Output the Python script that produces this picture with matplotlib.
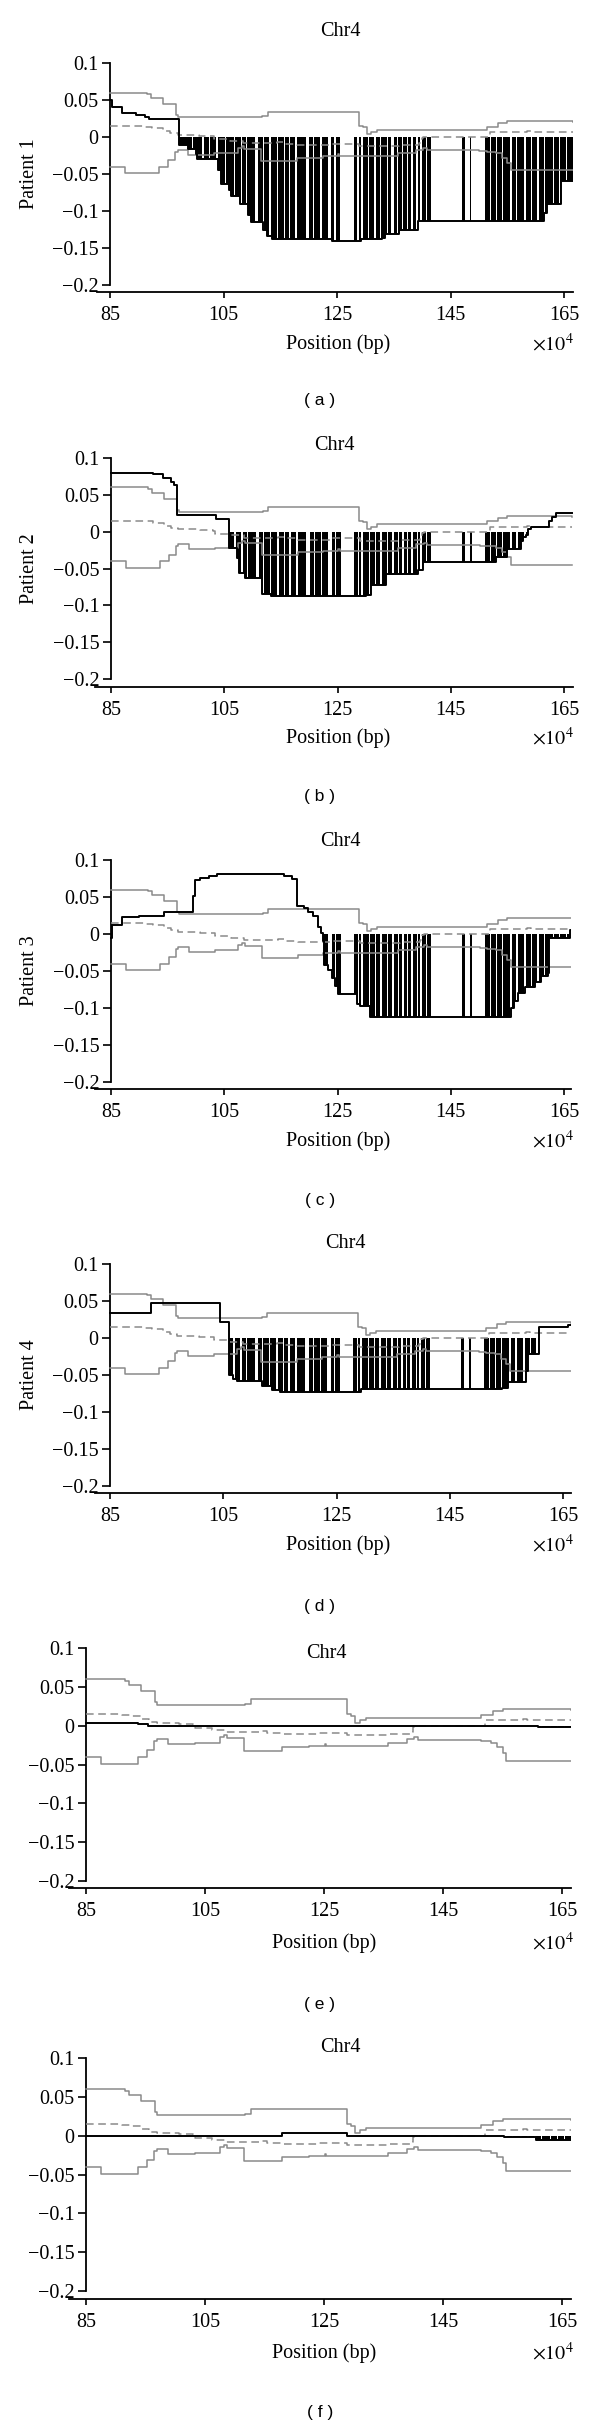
import numpy as np
import matplotlib.pyplot as plt

plt.rcParams["font.family"] = ["Liberation Serif", "DejaVu Serif"]
plt.rcParams["mathtext.fontset"] = "stix"

# positions in units of 1e4 bp, values are step curves (steps-post)
upper_x = [85, 91.5, 92.3, 94.3, 96.6, 97.0, 111.8, 112.8, 128.1, 128.8, 129.5, 130.2,
           131.0, 132.0, 150.8, 151.4, 153.4, 155.0, 166.5]
upper_y = [0.060, 0.058, 0.053, 0.044, 0.030, 0.027, 0.028, 0.034, 0.034, 0.015, 0.013,
           0.004, 0.007, 0.010, 0.010, 0.014, 0.019, 0.021, 0.020]

lower_x = [85, 87.6, 93.7, 95.3, 96.5, 96.9, 98.8, 103.3, 107.5, 108.2, 108.7, 111.6,
           118.0, 122.5, 125.1, 125.4, 135.7, 138.9, 140.2, 140.8, 150.1, 151.4, 153.0,
           154.0, 155.0, 155.6, 166.5]
lower_y = [-0.040, -0.049, -0.040, -0.031, -0.020, -0.017, -0.024, -0.022, -0.015, -0.012,
           -0.016, -0.032, -0.028, -0.026, -0.023, -0.026, -0.022, -0.017, -0.015, -0.018,
           -0.019, -0.020, -0.022, -0.028, -0.035, -0.045, -0.045]

mid_x = [85, 91.1, 92.4, 94.3, 95.6, 96.9, 100.7, 103.0, 103.3, 106.2, 108.4, 114.5,
         115.5, 118.0, 124.1, 128.9, 136.0, 139.5, 140.0, 140.2, 152.0, 158.4, 159.1, 166.5]
mid_y = [0.015, 0.014, 0.012, 0.008, 0.005, 0.003, 0.002, 0.001, -0.003, -0.005, -0.008,
         -0.007, -0.009, -0.011, -0.009, -0.012, -0.011, -0.008, -0.002, 0.000, 0.007,
         0.008, 0.007, 0.007]

# stretches without probes (white stripes in the filled area)
gap_start = [99.4, 101.2, 102.5, 103.6, 105.2, 106.8, 108.0, 109.0, 110.6, 111.9, 113.0,
             114.4, 115.6, 116.5, 117.6, 119.5, 120.8, 122.0, 123.4, 124.5, 125.6, 128.6,
             129.2, 130.5, 131.6, 132.5, 133.8, 134.6, 135.6, 136.4, 137.3, 138.0, 139.0,
             139.6, 140.6, 141.6, 147.6, 148.7, 151.9, 153.0, 154.1, 155.5, 156.6, 158.0,
             159.2, 160.3, 161.5, 163.0, 164.1, 165.3]
gap_end = [99.6, 101.6, 102.7, 104.0, 105.4, 107.0, 108.3, 109.2, 111.1, 112.1, 113.3,
           114.6, 115.8, 116.8, 118.0, 120.1, 121.0, 122.3, 124.0, 124.8, 128.0, 128.8,
           129.5, 130.7, 131.8, 132.8, 134.0, 135.0, 135.8, 136.7, 137.5, 138.4, 139.2,
           140.0, 140.8, 147.0, 148.4, 151.1, 152.1, 153.2, 154.3, 155.8, 156.8, 158.3,
           159.4, 160.6, 161.7, 163.2, 164.3, 165.5]

p1_x = [85, 85.3, 87.2, 89.5, 91.2, 91.9, 97.1, 98.7, 100.1, 100.3, 104.0, 104.6, 106.0,
        106.3, 107.9, 109.3, 109.9, 112.0, 112.7, 113.5, 124.1, 129.2, 132.9, 133.5,
        135.9, 139.3, 161.4, 162.0, 164.5, 166.5]
p1_y = [0.050, 0.041, 0.032, 0.030, 0.027, 0.025, -0.011, -0.016, -0.023, -0.030, -0.045,
        -0.063, -0.071, -0.080, -0.091, -0.105, -0.115, -0.126, -0.134, -0.138, -0.140,
        -0.138, -0.136, -0.131, -0.126, -0.113, -0.103, -0.091, -0.060, -0.060]

p2_x = [85, 92.4, 94.1, 95.6, 96.1, 96.6, 103.5, 105.9, 107.2, 107.6, 108.6, 111.6, 113.3,
        130.1, 130.9, 133.6, 139.3, 140.1, 153.0, 155.0, 157.4, 157.8, 158.3, 158.7, 159.1,
        162.4, 162.8, 163.5, 166.5]
p2_y = [0.079, 0.078, 0.073, 0.068, 0.063, 0.022, 0.017, -0.022, -0.036, -0.056, -0.063,
        -0.085, -0.088, -0.086, -0.073, -0.057, -0.052, -0.041, -0.035, -0.024, -0.012,
        -0.007, -0.004, 0.004, 0.007, 0.015, 0.020, 0.025, 0.025]

p3_x = [85, 85.2, 86.9, 90.0, 94.3, 99.5, 99.8, 100.8, 102.3, 103.7, 115.6, 117.0, 117.9,
        119.0, 119.8, 120.7, 121.5, 122.1, 122.5, 122.7, 123.4, 124.0, 124.6, 125.1, 128.4,
        129.0, 130.7, 155.7, 156.2, 156.9, 158.1, 159.9, 161.0, 162.1, 162.4, 166.0, 166.5]
p3_y = [-0.005, 0.012, 0.023, 0.024, 0.030, 0.052, 0.073, 0.076, 0.078, 0.081, 0.079,
        0.075, 0.038, 0.035, 0.030, 0.025, 0.010, 0.002, -0.010, -0.042, -0.048, -0.060,
        -0.070, -0.081, -0.095, -0.097, -0.112, -0.100, -0.090, -0.080, -0.072, -0.065,
        -0.057, -0.053, -0.005, 0.006, 0.006]

p4_x = [85, 92.2, 104.5, 106.0, 106.7, 107.4, 111.8, 113.6, 115.1, 129.4, 154.2, 155.2,
        158.4, 158.9, 160.7, 165.8, 166.5]
p4_y = [0.034, 0.047, 0.021, -0.050, -0.055, -0.058, -0.065, -0.070, -0.073, -0.069,
        -0.067, -0.060, -0.045, -0.022, 0.015, 0.017, 0.017]

p5_x = [85, 93.7, 95.5, 161.0, 166.5]
p5_y = [0.004, 0.002, 0.000, -0.002, -0.002]

p6_x = [85, 118.0, 128.9, 155.2, 160.7, 166.5]
p6_y = [0.000, 0.003, 0.000, -0.002, -0.006, -0.006]

patients = [(p1_x, p1_y), (p2_x, p2_y), (p3_x, p3_y), (p4_x, p4_y), (p5_x, p5_y), (p6_x, p6_y)]
ylabels = ["Patient 1", "Patient 2", "Patient 3", "Patient 4", None, None]
captions = ["( a )", "( b )", "( c )", "( d )", "( e )", "( f )"]

xticks = [85, 105, 125, 145, 165]
yticks = [-0.2, -0.15, -0.1, -0.05, 0, 0.05, 0.1]
ytick_labels = ["\u22120.2", "\u22120.15", "\u22120.1", "\u22120.05", "0", "0.05", "0.1"]

# pixel layout: x-axis line left/right, y(0.1), y(-0.2), x-axis line y, title xy, xlabel y, caption y
layout = [
    (97, 573, 63, 285, 292, (340, 31), 344, 401),
    (95, 573, 458, 679, 687, (334, 445), 738, 797),
    (95, 571, 860, 1082, 1089, (340, 841), 1141, 1201),
    (95, 571, 1264, 1486, 1493, (345, 1243), 1545, 1606),
    (69, 571, 1648, 1881, 1888, (326, 1653), 1943, 2004),
    (69, 571, 2058, 2291, 2299, (340, 2047), 2353, 2412),
]
tick85 = [110, 111, 111, 110, 86, 86]
tick165 = [564, 564, 564, 563, 562, 562]

W, H = 600, 2425
fig = plt.figure(figsize=(W / 100, H / 100), dpi=100)
gray = "#8a8a8a"
fs = 14.5

for i, (px, py) in enumerate(patients):
    xl_px, xr_px, ytop, ybot, xline, title_xy, xlab_y, cap_y = layout[i]
    ax = fig.add_axes([xl_px / W, 1 - ybot / H, (xr_px - xl_px) / W, (ybot - ytop) / H])
    ppu = (tick165[i] - tick85[i]) / 80.0
    ax.set_xlim(85 - (tick85[i] - xl_px) / ppu, 165 + (xr_px - tick165[i]) / ppu)
    ax.set_ylim(-0.2, 0.1)

    px = np.array(px)
    py = np.array(py)
    ax.fill_between(px, 0, np.minimum(py, 0), step="post", color="black", lw=0, zorder=1)
    for g0, g1 in zip(gap_start, gap_end):
        ax.fill_between([g0, g1], 0, -0.16, color="white", lw=0, zorder=2)

    ax.plot(upper_x, upper_y, drawstyle="steps-post", color=gray, lw=1.1, zorder=3)
    ax.plot(lower_x, lower_y, drawstyle="steps-post", color=gray, lw=1.1, zorder=3)
    ax.plot(mid_x, mid_y, drawstyle="steps-post", color=gray, lw=1.1, ls=(0, (5, 3)), zorder=3)
    ax.plot(px, py, drawstyle="steps-post", color="black", lw=1.4, zorder=4)

    for s in ["top", "right"]:
        ax.spines[s].set_visible(False)
    ax.spines["left"].set_position(("data", 85))
    ax.spines["left"].set_bounds(-0.2, 0.1)
    ax.spines["bottom"].set_position(("outward", (xline - ybot) * 0.72))
    ax.spines["left"].set_linewidth(1.3)
    ax.spines["bottom"].set_linewidth(1.3)

    ax.set_xticks(xticks)
    ax.set_xticklabels([str(t) for t in xticks])
    ax.set_yticks(yticks)
    ax.set_yticklabels(ytick_labels)
    ax.tick_params(axis="y", direction="out", length=5.5, width=1.2, pad=3, labelsize=fs)
    ax.tick_params(axis="x", direction="out", length=4, width=1.2, pad=6, labelsize=fs)

    fig.text(title_xy[0] / W, 1 - title_xy[1] / H, "Chr4", ha="center", va="center", fontsize=fs)
    fig.text(338 / W if i < 4 else 324 / W, 1 - xlab_y / H, "Position (bp)",
             ha="center", va="center", fontsize=fs)
    fig.text(574 / W, 1 - (xlab_y + 1) / H, r"$\times10^4$", ha="right", va="center", fontsize=fs)
    fig.text(320 / W, 1 - cap_y / H, captions[i], ha="center", va="center", fontsize=12.5,
             family=["Liberation Sans", "DejaVu Sans"])
    if ylabels[i]:
        fig.text(30 / W, 1 - (ytop + ybot) / 2 / H, ylabels[i], rotation=90,
                 ha="center", va="center", fontsize=fs)

fig.savefig("out.png", dpi=100)
